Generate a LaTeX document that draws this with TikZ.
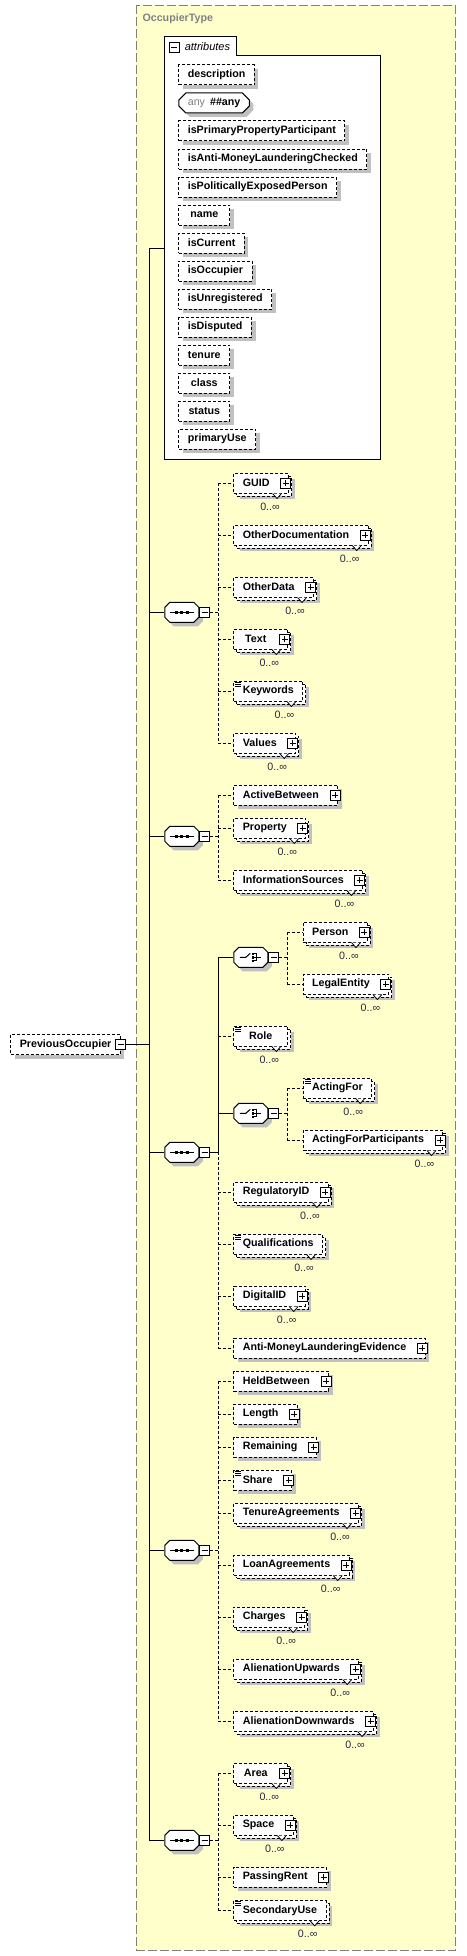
\documentclass[tikz,border=0pt]{standalone}
\usepackage{fontspec}
\setmainfont{Liberation Sans}
\usetikzlibrary{calc}
\usetikzlibrary{shapes.misc}
\usetikzlibrary{shadows}

\definecolor{typefill}{RGB}{255,255,204}
\definecolor{typeline}{RGB}{128,128,128}
\definecolor{shadowgray}{RGB}{192,192,192}
\definecolor{multtext}{RGB}{40,40,64}

\newcommand{\namefont}{\fontsize{10.7}{12}\selectfont\bfseries}
\newcommand{\multfont}{\fontsize{10.7}{12}\selectfont}

\tikzset{
  dline/.style={dash pattern=on 3pt off 2pt},
  typeframe/.style={draw=typeline, dash pattern=on 9pt off 3pt, fill=typefill},
  typename/.style={anchor=west, inner sep=0pt, text=typeline, font=\namefont},
  attrtitle/.style={anchor=west, inner sep=0pt, font=\fontsize{11}{12}\selectfont\itshape},
  elem/.style={draw, dline, fill=white, anchor=west, minimum height=20pt, minimum width=54pt, inner xsep=9pt, inner ysep=0pt, font=\namefont},
  one/.style={elem, drop shadow={shadow xshift=4pt, shadow yshift=-4pt, fill=shadowgray, opacity=1}},
  many/.style={elem, drop shadow={shadow xshift=6pt, shadow yshift=-6pt, fill=shadowgray, opacity=1},
    general shadow={shadow xshift=3pt, shadow yshift=-3pt, draw=black, dline, fill=white}},
  attr/.style={one, minimum width=51pt},
  anyattr/.style={one, chamfered rectangle, chamfered rectangle xsep=3pt, chamfered rectangle ysep=4pt, solid, inner xsep=6pt, minimum width=0pt},
  kids/.style={execute at end node={\hspace{10pt}}},
  mult/.style={inner sep=0pt, text=multtext, font=\multfont},
  notch/.style={draw, solid, fill=white, line width=0.8pt},
  minus/.style={draw, solid, fill=white, minimum size=10pt, inner sep=0pt, line width=0.8pt,
    path picture={\draw[line width=0.8pt] ([xshift=2pt]path picture bounding box.west) -- ([xshift=-2pt]path picture bounding box.east);}},
  plus/.style={draw, solid, fill=white, minimum size=10pt, inner sep=0pt, line width=0.8pt,
    path picture={\draw[line width=0.8pt] ([xshift=2pt]path picture bounding box.west) -- ([xshift=-2pt]path picture bounding box.east);
      \draw[line width=0.8pt] ([yshift=2pt]path picture bounding box.south) -- ([yshift=-2pt]path picture bounding box.north);}},
  octo/.style={minimum width=34pt, minimum height=20pt, inner sep=0pt, anchor=west},
  octpath/.style={insert path={++(-17,-5) -- ++(5,-5) -- ++(24,0) -- ++(5,5) -- ++(0,10) -- ++(-5,5) -- ++(-24,0) -- ++(-5,-5) -- cycle}},
}

\begin{document}
\begin{tikzpicture}[x=1pt, y=-1pt, line width=1pt]
\useasboundingbox (0,0) rectangle (466,1956);

% complex type frame
\draw[typeframe] (136.3,5.3) rectangle (455.3,1950);
\node[typename] (occtype) at (142,18.3) {OccupierType};

% attributes
\draw[fill=white] (164.3,459) -- (164.3,36.3) -- (236.3,36.3) -- (236.3,55.3) -- (380.3,55.3) -- (380.3,459) -- cycle;
\node[minus] (attr-m) at (174,47) {};
\node[attrtitle] (attr-t) at (184.3,47) {attributes};

\node[attr] (description) at (178.3,75) {description};
\node[anyattr] (anyattr) at (178.3,103) {{\mdseries\color{typeline}any}\hspace{5pt}\#\#any};
\node[attr] (isprimary) at (178.3,131) {isPrimaryPropertyParticipant};
\node[attr] (isaml) at (178.3,159) {isAnti-MoneyLaunderingChecked};
\node[attr] (ispep) at (178.3,187) {isPoliticallyExposedPerson};
\node[attr] (name) at (178.3,215) {name};
\node[attr] (iscurrent) at (178.3,243) {isCurrent};
\node[attr] (isoccupier) at (178.3,271) {isOccupier};
\node[attr] (isunreg) at (178.3,299) {isUnregistered};
\node[attr] (isdisputed) at (178.3,327) {isDisputed};
\node[attr] (tenure) at (178.3,355) {tenure};
\node[attr] (class) at (178.3,383) {class};
\node[attr] (status) at (178.3,411) {status};
\node[attr] (primaryuse) at (178.3,439) {primaryUse};

% root element
\node[one, minimum width=0pt] (po) at (10.3,1044.5) {PreviousOccupier};
\node[minus] (po-m) at (po.east) {};

% sequences and choices
\node[octo] (s1) at (164.3,612.3) {};
\node[octo] (s2) at (164.3,836.3) {};
\node[octo] (s3) at (164.3,1152.3) {};
\node[octo] (s4) at (164.3,1550.3) {};
\node[octo] (s5) at (164.3,1840.3) {};
\node[octo] (ch1) at (233.3,957.3) {};
\node[octo] (ch2) at (233.3,1113.3) {};
\foreach \s in {s1,s2,s3,s4,s5,ch1,ch2}{
  \fill[shadowgray] ($(\s.center)+(4,4)$) [octpath];
  \filldraw[fill=white] (\s.center) [octpath];
  \node[minus, anchor=west] (\s-m) at (\s.east) {};
}
\foreach \s in {s1,s2,s3,s4,s5}{
  \draw ($(\s.center)+(-12,0)$) -- ++(24,0);
  \foreach \d in {-5.3,0,5.3}
    \fill ($(\s.center)+(\d,0)$) +(-1.5,-1.5) rectangle +(1.5,1.5);
}
\foreach \s in {ch1,ch2}{
  \draw ($(\s.center)+(-11,0)$) -- ++(6,0) -- ++(4.5,-4);
  \foreach \d in {-3.5,0,3.5}
    \fill ($(\s.center)+(2,\d)$) +(-1.25,-1.25) rectangle +(1.25,1.25);
  \draw ($(\s.center)+(3,-3.5)$) -- ++(3,0) -- ++(0,7) -- ++(-3,0) ++(0,-3.5) -- ++(7,0);
}

% first sequence
\node[many, kids] (guid) at (233.3,483) {GUID};
\node[many, kids] (otherdoc) at (233.3,535) {OtherDocumentation};
\node[many, kids] (otherdata) at (233.3,587) {OtherData};
\node[many, kids] (textel) at (233.3,639) {Text};
\node[many] (keywords) at (233.3,691) {Keywords};
\node[many, kids] (values) at (233.3,743) {Values};

% second sequence
\node[one, kids] (activebetween) at (233.3,795) {ActiveBetween};
\node[many, kids] (property) at (233.3,828) {Property};
\node[many, kids] (infosources) at (233.3,880) {InformationSources};

% third sequence
\node[many, kids] (person) at (302.7,932) {Person};
\node[many, kids] (legalentity) at (302.7,984) {LegalEntity};
\node[many] (role) at (233.3,1036) {Role};
\node[many] (actingfor) at (302.7,1088) {ActingFor};
\node[many, kids] (actingforparts) at (302.7,1140) {ActingForParticipants};
\node[many, kids] (regulatoryid) at (233.3,1192) {RegulatoryID};
\node[many] (qualifications) at (233.3,1244) {Qualifications};
\node[many, kids] (digitalid) at (233.3,1296) {DigitalID};
\node[one, kids] (amlevidence) at (233.3,1348) {Anti-MoneyLaunderingEvidence};

% fourth sequence
\node[one, kids] (heldbetween) at (233.3,1381) {HeldBetween};
\node[one, kids] (lengthel) at (233.3,1414) {Length};
\node[one, kids] (remaining) at (233.3,1447) {Remaining};
\node[one, kids] (share) at (233.3,1480) {Share};
\node[many, kids] (tenureagr) at (233.3,1513) {TenureAgreements};
\node[many, kids] (loanagr) at (233.3,1565) {LoanAgreements};
\node[many, kids] (charges) at (233.3,1617) {Charges};
\node[many, kids] (alienup) at (233.3,1669) {AlienationUpwards};
\node[many, kids] (aliendown) at (233.3,1721) {AlienationDownwards};

% fifth sequence
\node[many, kids] (area) at (233.3,1773) {Area};
\node[many, kids] (space) at (233.3,1825) {Space};
\node[one, kids] (passingrent) at (233.3,1877) {PassingRent};
\node[many] (secondaryuse) at (233.3,1910.3) {SecondaryUse};

% expand boxes
\foreach \n in {guid,otherdoc,otherdata,textel,values,activebetween,property,infosources,person,legalentity,
    actingforparts,regulatoryid,digitalid,amlevidence,heldbetween,lengthel,remaining,share,tenureagr,loanagr,
    charges,alienup,aliendown,area,space,passingrent}
  \node[plus] (\n-p) at ($(\n.east)+(-3.5,0)$) {};

% occurrences
\foreach \n in {guid,otherdoc,otherdata,textel,keywords,values,property,infosources,person,legalentity,role,
    actingfor,actingforparts,regulatoryid,qualifications,digitalid,tenureagr,loanagr,charges,alienup,aliendown,
    area,space,secondaryuse}{
  \draw[notch] ($(\n.south east)+(-16.5,0)$) -- ++(4.5,5) -- ++(4.5,-5);
  \node[mult] (\n-n) at ($(\n.south east)+(-19,13)$) {0..∞};
}

% simple content marks
\foreach \n in {keywords,role,actingfor,qualifications,share,secondaryuse}
  \foreach \k in {1.5,3.5,5.5}
    \draw[line width=0.8pt] ($(\n.north west)+(2,\k)$) -- ++(6,0);

% connectors
\coordinate (trunk) at (149.3,248.3);
\coordinate (attr-in) at (164.3,248.3);
\coordinate (bus) at (218.3,0);
\coordinate (cbus) at (287.3,0);

\draw (po-m.east) -- (po-m.east -| trunk);
\draw (attr-in) -- (trunk) -- (trunk |- s5.west);
\foreach \s in {s1,s2,s3,s4,s5}
  \draw (trunk |- \s.west) -- (\s.west);

\foreach \s in {s1,s2,s4,s5}
  \draw[dline] (\s-m.east) -- (\s-m.east -| bus);
\draw (s3-m.east) -- (s3-m.east -| bus);

\draw[dline] (guid.west -| bus) -- (values.west -| bus);
\draw[dline] (activebetween.west -| bus) -- (infosources.west -| bus);
\draw (ch1.west -| bus) -- (s3-m.east -| bus);
\draw[dline] (s3-m.east -| bus) -- (amlevidence.west -| bus);
\draw[dline] (heldbetween.west -| bus) -- (aliendown.west -| bus);
\draw[dline] (area.west -| bus) -- (secondaryuse.west -| bus);

\foreach \n in {guid,otherdoc,otherdata,textel,keywords,values,activebetween,property,infosources,role,
    regulatoryid,qualifications,digitalid,amlevidence,heldbetween,lengthel,remaining,share,tenureagr,loanagr,
    charges,alienup,aliendown,area,space,passingrent,secondaryuse}
  \draw[dline] (\n.west -| bus) -- (\n.west);
\draw (ch1.west -| bus) -- (ch1.west);
\draw (ch2.west -| bus) -- (ch2.west);

\foreach \c in {ch1,ch2}
  \draw[dline] (\c-m.east) -- (\c-m.east -| cbus);
\draw[dline] (person.west -| cbus) -- (legalentity.west -| cbus);
\draw[dline] (actingfor.west -| cbus) -- (actingforparts.west -| cbus);
\foreach \n in {person,legalentity,actingfor,actingforparts}
  \draw[dline] (\n.west -| cbus) -- (\n.west);

\end{tikzpicture}
\end{document}
